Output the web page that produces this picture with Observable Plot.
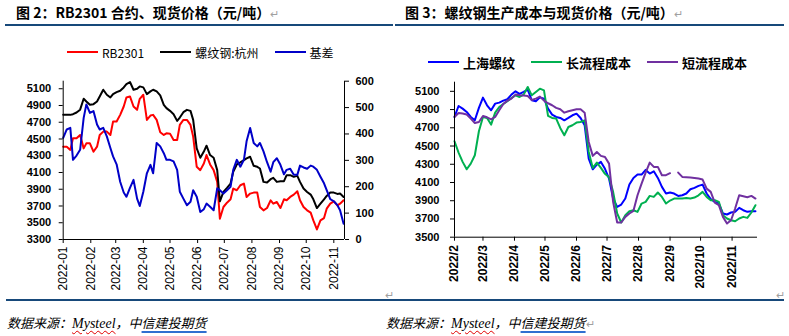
<!DOCTYPE html>
<html><head><meta charset="utf-8">
<script src="https://cdn.jsdelivr.net/npm/d3@7"></script>
<script src="https://cdn.jsdelivr.net/npm/@observablehq/plot@0.6"></script>
<style>
html,body{margin:0;padding:0;background:#fff;}
body{width:789px;height:336px;position:relative;overflow:hidden;font-family:"Noto Sans CJK SC",sans-serif;color:#000;}
.abs{position:absolute;white-space:nowrap;}
.title{font-weight:700;font-size:14px;line-height:14px;}
.pm{color:#a0a0a0;font-weight:400;font-size:11px;}
.rule{position:absolute;height:2px;background:#17497a;}
.legend{position:absolute;display:flex;align-items:center;white-space:nowrap;}
.legend .item{display:flex;align-items:center;}
.legend .sw{display:inline-block;height:2px;}
.src{font-size:13px;line-height:16px;font-style:italic;}
.src .en{font-family:"Liberation Serif",serif;font-size:14px;text-decoration:underline wavy #e00000;text-decoration-thickness:1px;text-underline-offset:2px;}
.src .ul{text-decoration:underline #2f6fd0;text-decoration-thickness:1.5px;text-underline-offset:3px;}
</style>
</head><body>
<div class="abs title" style="left:16px;top:5px;">图 2：RB2301 合约、现货价格（元/吨）<span class="pm">↵</span></div>
<div class="abs title" style="left:405px;top:5px;">图 3：螺纹钢生产成本与现货价格（元/吨）<span class="pm">↵</span></div>
<div class="rule" style="left:5px;top:24px;width:388px;"></div>
<div class="rule" style="left:395px;top:24px;width:389px;"></div>
<div id="legL" class="legend" style="left:67px;top:44px;height:16px;font-size:12px;gap:16px;"></div>
<div id="legR" class="legend" style="left:428px;top:54px;height:16px;font-size:13px;font-weight:700;gap:16px;"></div>
<div id="chartL" class="abs" style="left:0;top:70px;"></div>
<div id="chartR" class="abs" style="left:395px;top:70px;"></div>
<div class="abs pm" style="left:385px;top:286px;">↵</div>
<div class="abs pm" style="left:776px;top:286px;">↵</div>
<div class="rule" style="left:6px;top:299px;width:389px;"></div>
<div class="rule" style="left:395px;top:299px;width:389px;"></div>
<div class="abs src" style="left:7px;top:315px;">数据来源：<span class="en">Mysteel</span>，中<span class="ul">信建投期货</span></div>
<div class="abs src" style="left:386px;top:315px;">数据来源：<span class="en">Mysteel</span>，中<span class="ul">信建投期货</span><span class="pm" style="font-style:normal">↵</span></div>
<script>
// ---------- Figure 2 data ----------
const leftSeriesNames = ["RB2301", "螺纹钢:杭州", "基差"];
const leftColors = ["#ff0000", "#000000", "#0000c8"];
const leftDates = ["2022-01-01","2022-01-05","2022-01-09","2022-01-12","2022-01-16","2022-01-20","2022-01-24","2022-01-27","2022-01-31",
"2022-02-04","2022-02-08","2022-02-11","2022-02-15","2022-02-19","2022-02-23","2022-02-26",
"2022-03-02","2022-03-06","2022-03-10","2022-03-13","2022-03-17","2022-03-21","2022-03-25","2022-03-28",
"2022-04-01","2022-04-05","2022-04-09","2022-04-12","2022-04-16","2022-04-20","2022-04-24","2022-04-27",
"2022-05-01","2022-05-05","2022-05-09","2022-05-12","2022-05-16","2022-05-20","2022-05-24","2022-05-27","2022-05-31",
"2022-06-04","2022-06-08","2022-06-11","2022-06-15","2022-06-19","2022-06-23","2022-06-26","2022-06-30",
"2022-07-04","2022-07-08","2022-07-11","2022-07-15","2022-07-19","2022-07-23","2022-07-26","2022-07-30",
"2022-08-03","2022-08-07","2022-08-10","2022-08-14","2022-08-18","2022-08-22","2022-08-25","2022-08-29",
"2022-09-02","2022-09-06","2022-09-09","2022-09-13","2022-09-17","2022-09-21","2022-09-24","2022-09-28",
"2022-10-02","2022-10-06","2022-10-09","2022-10-13","2022-10-17","2022-10-21","2022-10-24","2022-10-28",
"2022-11-01","2022-11-05","2022-11-08","2022-11-12"];
const rb2301 = [4408,4408,4370,4508,4508,4548,4388,4448,4448,4348,
4408,4548,4588,4588,4548,4708,4708,4788,4888,4996,
5008,4888,4848,4980,5028,4728,4780,4788,4728,4580,
4548,4568,4564,4488,4488,4668,4728,4728,4668,4528,
4168,4128,4208,4308,4196,4128,3988,3548,3688,3740,
3780,3908,3888,3948,3968,3808,3848,3860,3860,3688,
3648,3676,3768,3728,3748,3676,3780,3768,3808,3836,
3876,3768,3688,3648,3620,3528,3420,3528,3556,3668,
3728,3756,3708,3728,3768];
const hangzhou = [4788,4788,4788,4796,4816,4850,4980,4948,4908,4916,
4948,5008,5088,5028,4996,5036,5060,5076,5116,5156,
5180,5088,5100,5128,5116,5036,5068,5088,5068,5020,
4908,4868,4836,4796,4716,4756,4820,4848,4836,4728,
4388,4276,4350,4420,4308,4276,4128,3756,3868,3916,
3968,4108,4196,4220,4248,4268,4288,4180,4168,4148,
3988,3980,4020,4036,3988,3996,3996,4068,4068,4048,
4060,3988,3908,3868,3836,3780,3676,3728,3780,3820,
3860,3860,3844,3848,3808];
const basis = [385,417,423,302,318,340,461,512,480,487,
436,417,423,391,347,315,285,219,178,162,
196,226,155,127,181,251,283,251,366,353,
327,302,302,296,264,181,155,130,143,187,
162,104,115,136,124,111,194,187,174,187,
200,264,302,276,302,372,423,366,353,366,
334,293,257,293,308,283,247,264,268,245,
245,280,273,268,280,276,264,238,213,187,
153,145,130,111,60];
const leftPriceTicks = [3300,3500,3700,3900,4100,4300,4500,4700,4900,5100];
const basisTicks = [0,100,200,300,400,500,600];
const leftMonths = ["2022-01-01","2022-02-01","2022-03-01","2022-04-01","2022-05-01","2022-06-01","2022-07-01","2022-08-01","2022-09-01","2022-10-01","2022-11-01"];
const leftMonthLabels = ["2022-01","2022-02","2022-03","2022-04","2022-05","2022-06","2022-07","2022-08","2022-09","2022-10","2022-11"];

// ---------- Figure 3 data ----------
const rightSeriesNames = ["上海螺纹", "长流程成本", "短流程成本"];
const rightColors = ["#0000ff", "#00b050", "#7030a0"];
const rightDates = ["2022-02-01","2022-02-05","2022-02-09","2022-02-13","2022-02-17","2022-02-21","2022-02-25",
"2022-03-01","2022-03-05","2022-03-09","2022-03-13","2022-03-17","2022-03-21","2022-03-25","2022-03-29",
"2022-04-02","2022-04-06","2022-04-10","2022-04-14","2022-04-18","2022-04-22","2022-04-26","2022-04-30",
"2022-05-04","2022-05-08","2022-05-12","2022-05-16","2022-05-20","2022-05-24","2022-05-28",
"2022-06-01","2022-06-05","2022-06-09","2022-06-13","2022-06-17","2022-06-21","2022-06-25","2022-06-29",
"2022-07-03","2022-07-07","2022-07-11","2022-07-15","2022-07-19","2022-07-23","2022-07-27","2022-07-31",
"2022-08-04","2022-08-08","2022-08-12","2022-08-16","2022-08-20","2022-08-24","2022-08-28",
"2022-09-01","2022-09-05","2022-09-09","2022-09-13","2022-09-17","2022-09-21","2022-09-25","2022-09-29",
"2022-10-03","2022-10-07","2022-10-11","2022-10-15","2022-10-19","2022-10-23","2022-10-27","2022-10-31",
"2022-11-04","2022-11-08","2022-11-12","2022-11-16","2022-11-20","2022-11-24"];
const shanghai = [4819,4939,4910,4874,4819,4782,4918,5031,4947,4892,
4965,4976,4998,5013,5064,5100,5071,5093,5118,5002,
4991,5034,5020,4910,4844,4819,4808,4782,4808,4837,
4855,4808,4728,4362,4245,4296,4326,4250,4143,3924,
3833,3858,3924,4077,4150,4187,4187,4238,4198,4223,
4150,4052,3979,3990,3979,3953,3960,3979,4026,4041,
4063,4077,3979,3917,3887,3869,3760,3749,3771,3778,
3822,3796,3778,3785,3785];
const longCost = [4552,4428,4326,4245,4307,4399,4662,4819,4808,4735,
4866,4928,4961,4991,5027,5056,5038,5064,5148,5056,
5093,5129,5111,4830,4808,4801,4698,4618,4709,4728,
4757,4764,4782,4435,4260,4318,4260,4195,4158,3997,
3760,3661,3741,3785,3796,3778,3869,3887,3953,3942,
3990,3942,3869,3902,3924,3924,3924,3931,3924,3935,
3960,3997,3942,3906,3906,3887,3741,3705,3686,3675,
3705,3723,3712,3771,3851];
const shortCost = [4819,4863,4856,4845,4801,4753,4764,4830,4815,4793,
4819,4892,4961,4998,5020,5064,5056,5053,5049,5005,
5020,5042,4998,4969,4947,4918,4903,4866,4881,4892,
4903,4903,4866,4545,4392,4435,4392,4380,4307,3887,
3661,3661,3723,3760,3789,3960,4088,4209,4318,4271,
4271,4180,4180,4202,null,4209,4161,4158,4154,4150,
4143,4132,4033,3997,3880,3851,3723,3650,3686,3814,
3960,3949,3939,3953,3924];
const rightPriceTicks = [3500,3700,3900,4100,4300,4500,4700,4900,5100];
const rightMonths = ["2022-02-01","2022-03-01","2022-04-01","2022-05-01","2022-06-01","2022-07-01","2022-08-01","2022-09-01","2022-10-01","2022-11-01"];
const rightMonthLabels = ["2022/2","2022/3","2022/4","2022/5","2022/6","2022/7","2022/8","2022/9","2022/10","2022/11"];

// ---------- legends ----------
function legend(el, names, colors, sw) {
  names.forEach((n, i) => {
    const it = document.createElement("div");
    it.className = "item";
    it.innerHTML = `<span class="sw" style="width:${sw}px;background:${colors[i]};margin-right:4px"></span><span>${n}</span>`;
    el.appendChild(it);
  });
}
legend(document.getElementById("legL"), leftSeriesNames, leftColors, 31);
legend(document.getElementById("legR"), rightSeriesNames, rightColors, 31);

// ---------- Figure 2 ----------
const LTOP = 5190;
const toLeft = b => 3300 + b * (LTOP - 3300) / 600;
const Ldata = leftDates.map((d, i) => ({date: new Date(d), rb: rb2301[i], hz: hangzhou[i], bs: toLeft(basis[i])}));
const Lx0 = new Date("2022-01-01"), Lx1 = new Date("2022-11-13");
const monthIdx = (arr) => (d) => arr.findIndex(m => +new Date(m) === +d);
const li = monthIdx(leftMonths);
const axisFont = "Liberation Sans, Arial, sans-serif";
const plain = d => String(d);
const left = Plot.plot({
  width: 395, height: 230,
  marginLeft: 62.7, marginRight: 51, marginTop: 10.7, marginBottom: 61,
  style: {fontFamily: axisFont, background: "transparent", color: "#000"},
  x: {type: "utc", domain: [Lx0, Lx1]},
  y: {domain: [3300, LTOP]},
  marks: [
    Plot.line(Ldata, {x: "date", y: "rb", stroke: leftColors[0], strokeWidth: 2}),
    Plot.line(Ldata, {x: "date", y: "hz", stroke: leftColors[1], strokeWidth: 2}),
    Plot.line(Ldata, {x: "date", y: "bs", stroke: leftColors[2], strokeWidth: 2}),
    Plot.ruleY([3300], {stroke: "#000"}),
    Plot.ruleX([Lx0], {stroke: "#000"}),
    Plot.ruleX([Lx1], {stroke: "#000"}),
    Plot.axisY({ticks: leftPriceTicks, tickFormat: plain, tickSize: 4, tickPadding: 8, fontSize: 11, fontWeight: "bold", label: null}),
    Plot.axisY({anchor: "right", ticks: basisTicks.map(toLeft), tickSize: 4, tickPadding: 7, fontSize: 11, fontWeight: "bold", label: null,
      tickFormat: v => String(basisTicks.find(b => Math.abs(toLeft(b) - v) < 1e-6))}),
    Plot.axisX({ticks: leftMonths.map(d => new Date(d)), tickFormat: d => leftMonthLabels[li(d)], tickRotate: -90, tickSize: 4, tickPadding: 3, fontSize: 12, label: null})
  ]
});
document.getElementById("chartL").appendChild(left);

// ---------- Figure 3 ----------
const Rdata = rightDates.map((d, i) => ({date: new Date(d), sh: shanghai[i], lc: longCost[i], sc: shortCost[i]}));
const Rx0 = new Date("2022-02-01"), Rx1 = new Date("2022-11-26");
const ri = monthIdx(rightMonths);
const right = Plot.plot({
  width: 394, height: 230,
  marginLeft: 59, marginRight: 32, marginTop: 11.7, marginBottom: 63.3,
  style: {fontFamily: axisFont, background: "transparent", color: "#000"},
  x: {type: "utc", domain: [Rx0, Rx1]},
  y: {domain: [3500, 5200]},
  marks: [
    Plot.line(Rdata, {x: "date", y: "sh", stroke: rightColors[0], strokeWidth: 2}),
    Plot.line(Rdata, {x: "date", y: "lc", stroke: rightColors[1], strokeWidth: 2}),
    Plot.line(Rdata, {x: "date", y: "sc", stroke: rightColors[2], strokeWidth: 2}),
    Plot.ruleY([3500], {stroke: "#000"}),
    Plot.ruleX([Rx0], {stroke: "#000"}),
    Plot.axisY({ticks: rightPriceTicks, tickFormat: plain, tickSize: 4, tickPadding: 11, fontSize: 11, fontWeight: "bold", label: null}),
    Plot.axisX({ticks: rightMonths.map(d => new Date(d)), tickFormat: d => rightMonthLabels[ri(d)], tickRotate: -90, tickSize: 4, tickPadding: 4, fontSize: 12, fontWeight: "bold", label: null})
  ]
});
document.getElementById("chartR").appendChild(right);
</script>
</body></html>
